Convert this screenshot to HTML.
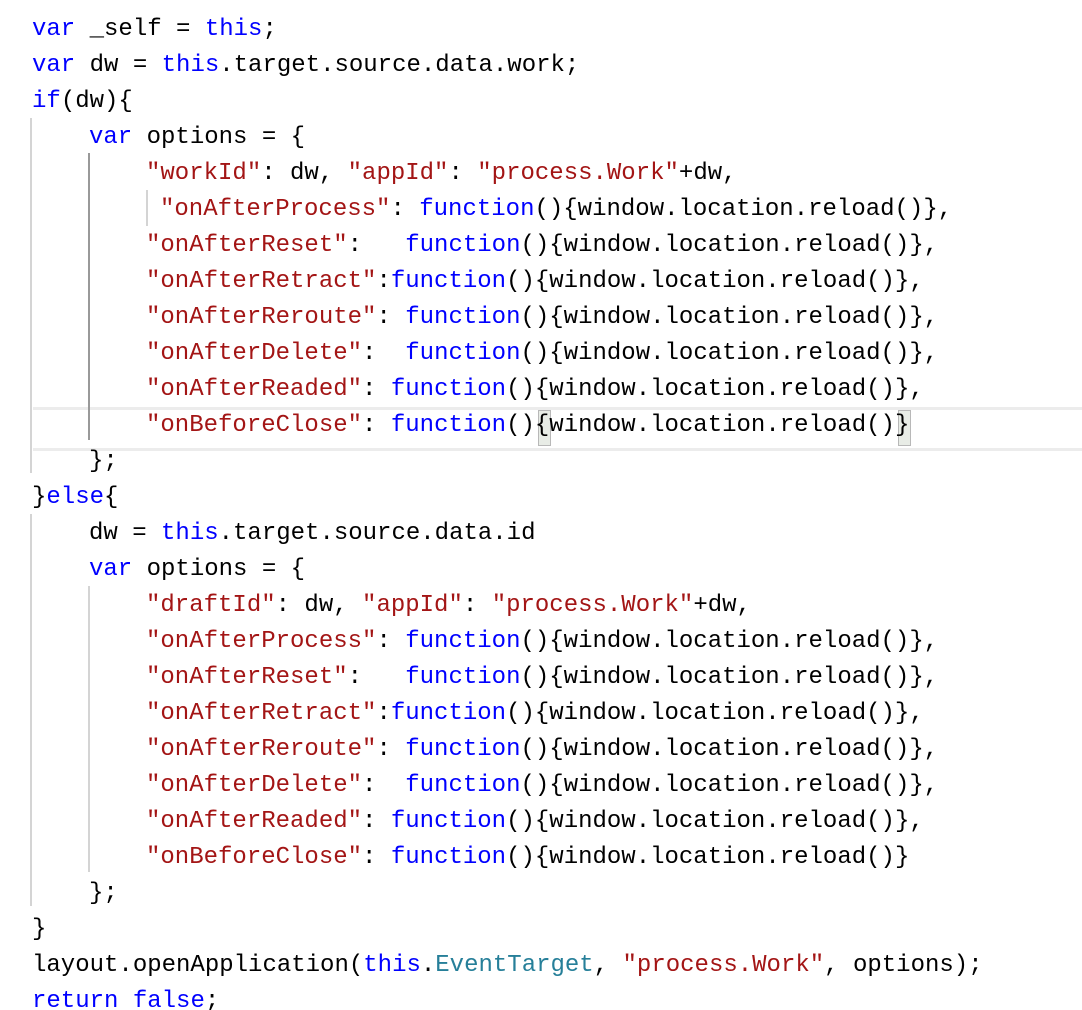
<!DOCTYPE html>
<html><head><meta charset="utf-8"><style>
html,body{margin:0;padding:0;background:#fff;width:1082px;height:1010px;overflow:hidden;position:relative}
.l{position:absolute;height:36px;line-height:36px;font-family:"Liberation Mono",monospace;font-size:24px;color:#000;white-space:pre;margin-top:3px}
.k{color:#0000ff}.s{color:#a31515}.t{color:#267f99}
.g{position:absolute;width:2px}
.hl{position:absolute;left:33px;right:0;top:407px;height:38px;border-top:3px solid #ececec;border-bottom:3px solid #ececec;background:#fff}
.br{position:absolute;top:410px;width:13px;height:36px;background:#e8ece6;border:1px solid #b8b8b8;box-sizing:border-box}
</style></head><body>
<div class="hl"></div>
<div class="br" style="left:538px"></div>
<div class="br" style="left:898px"></div>
<div class="g" style="left:30px;top:118px;height:355px;background:#d4d4d4"></div>
<div class="g" style="left:88px;top:153px;height:287px;background:#999"></div>
<div class="g" style="left:146px;top:190px;height:36px;background:#d4d4d4"></div>
<div class="g" style="left:30px;top:514px;height:392px;background:#d4d4d4"></div>
<div class="g" style="left:88px;top:586px;height:286px;background:#d4d4d4"></div>

<div class="l" style="top:9px;left:32px"><span class="k">var</span> _self = <span class="k">this</span>;</div>
<div class="l" style="top:45px;left:32px"><span class="k">var</span> dw = <span class="k">this</span>.target.source.data.work;</div>
<div class="l" style="top:81px;left:32px"><span class="k">if</span>(dw){</div>
<div class="l" style="top:117px;left:89px"><span class="k">var</span> options = {</div>
<div class="l" style="top:153px;left:146px"><span class="s">"workId"</span>: dw, <span class="s">"appId"</span>: <span class="s">"process.Work"</span>+dw,</div>
<div class="l" style="top:189px;left:160px"><span class="s">"onAfterProcess"</span>: <span class="k">function</span>(){window.location.reload()},</div>
<div class="l" style="top:225px;left:146px"><span class="s">"onAfterReset"</span>:   <span class="k">function</span>(){window.location.reload()},</div>
<div class="l" style="top:261px;left:146px"><span class="s">"onAfterRetract"</span>:<span class="k">function</span>(){window.location.reload()},</div>
<div class="l" style="top:297px;left:146px"><span class="s">"onAfterReroute"</span>: <span class="k">function</span>(){window.location.reload()},</div>
<div class="l" style="top:333px;left:146px"><span class="s">"onAfterDelete"</span>:  <span class="k">function</span>(){window.location.reload()},</div>
<div class="l" style="top:369px;left:146px"><span class="s">"onAfterReaded"</span>: <span class="k">function</span>(){window.location.reload()},</div>
<div class="l" style="top:405px;left:146px"><span class="s">"onBeforeClose"</span>: <span class="k">function</span>(){window.location.reload()}</div>
<div class="l" style="top:441px;left:89px">};</div>
<div class="l" style="top:477px;left:32px">}<span class="k">else</span>{</div>
<div class="l" style="top:513px;left:89px">dw = <span class="k">this</span>.target.source.data.id</div>
<div class="l" style="top:549px;left:89px"><span class="k">var</span> options = {</div>
<div class="l" style="top:585px;left:146px"><span class="s">"draftId"</span>: dw, <span class="s">"appId"</span>: <span class="s">"process.Work"</span>+dw,</div>
<div class="l" style="top:621px;left:146px"><span class="s">"onAfterProcess"</span>: <span class="k">function</span>(){window.location.reload()},</div>
<div class="l" style="top:657px;left:146px"><span class="s">"onAfterReset"</span>:   <span class="k">function</span>(){window.location.reload()},</div>
<div class="l" style="top:693px;left:146px"><span class="s">"onAfterRetract"</span>:<span class="k">function</span>(){window.location.reload()},</div>
<div class="l" style="top:729px;left:146px"><span class="s">"onAfterReroute"</span>: <span class="k">function</span>(){window.location.reload()},</div>
<div class="l" style="top:765px;left:146px"><span class="s">"onAfterDelete"</span>:  <span class="k">function</span>(){window.location.reload()},</div>
<div class="l" style="top:801px;left:146px"><span class="s">"onAfterReaded"</span>: <span class="k">function</span>(){window.location.reload()},</div>
<div class="l" style="top:837px;left:146px"><span class="s">"onBeforeClose"</span>: <span class="k">function</span>(){window.location.reload()}</div>
<div class="l" style="top:873px;left:89px">};</div>
<div class="l" style="top:909px;left:32px">}</div>
<div class="l" style="top:945px;left:32px">layout.openApplication(<span class="k">this</span>.<span class="t">EventTarget</span>, <span class="s">"process.Work"</span>, options);</div>
<div class="l" style="top:981px;left:32px"><span class="k">return</span> <span class="k">false</span>;</div>
</body></html>
